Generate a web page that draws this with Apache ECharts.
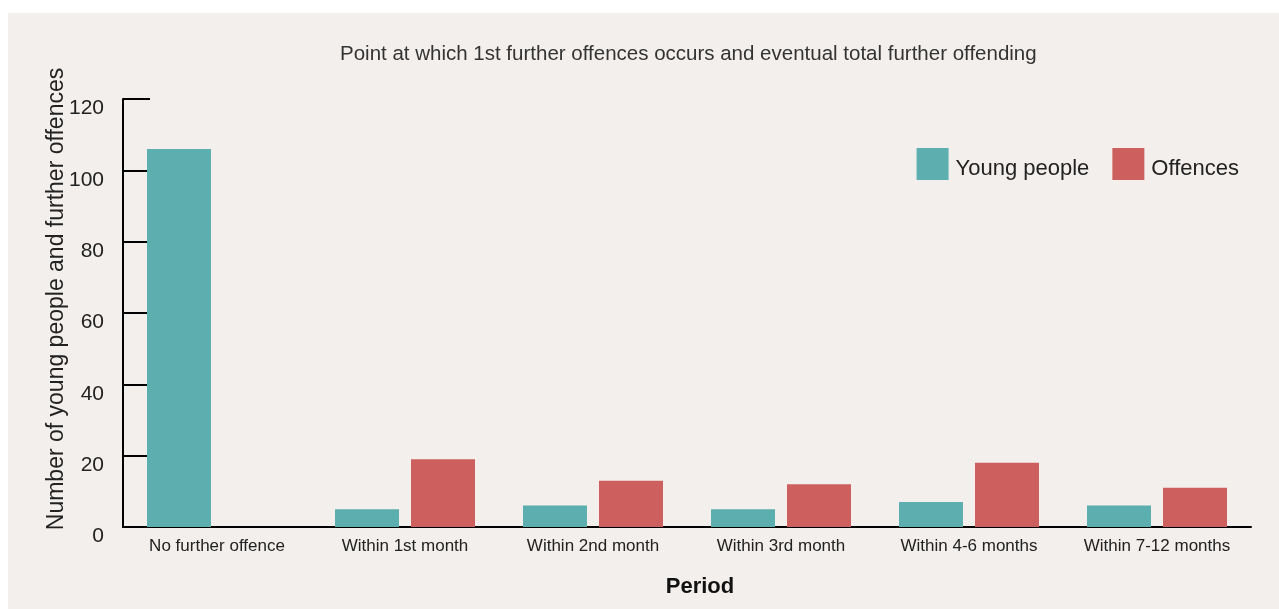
<!DOCTYPE html>
<html>
<head>
<meta charset="utf-8">
<script src="https://cdn.jsdelivr.net/npm/echarts@6/dist/echarts.min.js"></script>
<style>
  html, body { margin: 0; padding: 0; background: #ffffff; }
  #bg { position: absolute; left: 8px; top: 13px; width: 1271px; height: 596px; background: #f2efec; }
  #chart { position: absolute; left: 0; top: 0; width: 1279px; height: 609px; }
</style>
</head>
<body>
<div id="bg"></div>
<div id="chart"></div>
<script>
const categories = ['No further offence', 'Within 1st month', 'Within 2nd month', 'Within 3rd month', 'Within 4-6 months', 'Within 7-12 months']
const youngPeople = [106, 5, 6, 5, 7, 6]
const offences = [0, 19, 13, 12, 18, 11]
const yTicks = { min: 0, max: 120, interval: 20 }

const font = "'Liberation Sans', Arial, sans-serif"
const ink = '#222'

const chart = echarts.init(document.getElementById('chart'), undefined, { renderer: 'canvas' })

chart.setOption({
  backgroundColor: 'transparent',
  textStyle: { fontFamily: font },
  title: {
    text: 'Point at which 1st further offences occurs and eventual total further offending',
    left: 340,
    top: 44,
    padding: 0,
    textStyle: { fontSize: 20.5, fontWeight: 'normal', color: '#333', fontFamily: font }
  },
  legend: {
    right: 40,
    top: 148,
    padding: 0,
    icon: 'rect',
    itemWidth: 32,
    itemHeight: 32,
    itemGap: 23,
    formatter: name => '{t|' + name + '}',
    textStyle: {
      fontFamily: font,
      rich: { t: { fontSize: 22, color: ink, fontFamily: font, padding: [10, 0, 0, 2] } }
    },
    data: ['Young people', 'Offences']
  },
  grid: { left: 123, right: 28, top: 99, bottom: 82, containLabel: false },
  xAxis: {
    type: 'category',
    data: categories,
    name: 'Period',
    nameLocation: 'middle',
    nameGap: 49,
    nameMoveOverlap: false,
    nameTextStyle: { fontSize: 22, fontWeight: 'bold', color: '#111', padding: [0, 0, 0, 26] },
    axisLine: { lineStyle: { color: '#000', width: 2 } },
    axisTick: { inside: true, length: 10, lineStyle: { color: '#000', width: 2 } },
    axisLabel: { interval: 0, hideOverlap: false, fontSize: 17, color: ink, margin: 11 },
    splitLine: { show: false }
  },
  yAxis: {
    type: 'value',
    min: yTicks.min,
    max: yTicks.max,
    interval: yTicks.interval,
    name: 'Number of young people and further offences',
    nameLocation: 'middle',
    nameGap: 55,
    nameMoveOverlap: false,
    nameTextStyle: { fontSize: 23, color: ink, padding: [0, 0, 0, 28] },
    axisLine: { show: true, lineStyle: { color: '#000', width: 2 } },
    axisTick: { show: true, inside: true, length: 27, lineStyle: { color: '#000', width: 2 } },
    axisLabel: { fontSize: 21, color: ink, margin: 19, verticalAlign: 'top', padding: [-1, 0, 0, 0] },
    splitLine: { show: false }
  },
  series: [
    {
      name: 'Young people',
      type: 'bar',
      data: youngPeople,
      itemStyle: { color: '#5daeae' },
      barWidth: 64,
      barGap: '18.75%'
    },
    {
      name: 'Offences',
      type: 'bar',
      data: offences,
      itemStyle: { color: '#cd5f5e' },
      barWidth: 64,
      barGap: '18.75%'
    }
  ]
})
</script>
</body>
</html>
